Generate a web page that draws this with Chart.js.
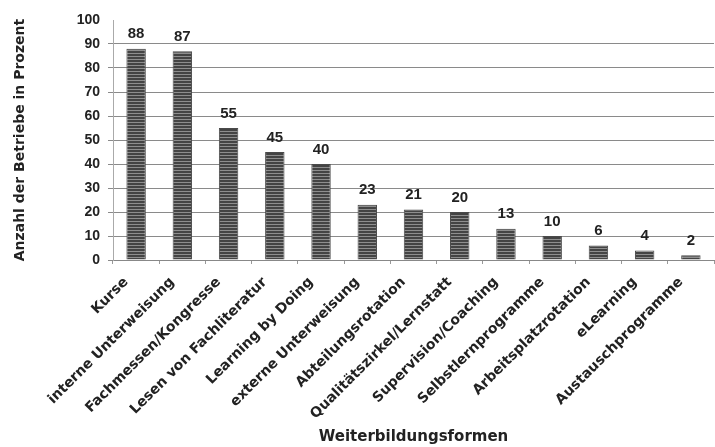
<!DOCTYPE html>
<html>
<head>
<meta charset="utf-8">
<script src="https://cdn.jsdelivr.net/npm/chart.js@4/dist/chart.umd.min.js"></script>
<style>
html,body{margin:0;padding:0;background:#fff;}
#wrap{width:715px;height:447px;position:relative;}
</style>
</head>
<body>
<div id="wrap"><canvas id="c" width="715" height="447"></canvas></div>
<script>
const categories = ["Kurse","interne Unterweisung","Fachmessen/Kongresse","Lesen von Fachliteratur","Learning by Doing","externe Unterweisung","Abteilungsrotation","Qualitätszirkel/Lernstatt","Supervision/Coaching","Selbstlernprogramme","Arbeitsplatzrotation","eLearning","Austauschprogramme"];
const values = [88,87,55,45,40,23,21,20,13,10,6,4,2];
const yTicks = [0,10,20,30,40,50,60,70,80,90,100];
const yTitle = "Anzahl der Betriebe in Prozent";
const xTitle = "Weiterbildungsformen";

// striped fill pattern
const pc = document.createElement('canvas');
pc.width = 4; pc.height = 3;
const pctx = pc.getContext('2d');
pctx.fillStyle = '#8e8e8e'; pctx.fillRect(0,0,4,3);
pctx.fillStyle = '#444'; pctx.fillRect(0,0,4,2);
const ctx = document.getElementById('c').getContext('2d');
const stripe = ctx.createPattern(pc,'repeat');

const valueLabels = {
  id:'valueLabels',
  afterDatasetsDraw(chart){
    const c = chart.ctx;
    const meta = chart.getDatasetMeta(0);
    c.save();
    c.font = 'bold 15px "Liberation Sans", Arial, sans-serif';
    c.fillStyle = '#222';
    c.textAlign = 'center';
    c.textBaseline = 'bottom';
    meta.data.forEach((bar,i)=>{
      const p = bar.getProps(['x','y'],true);
      c.fillText(String(chart.data.datasets[0].data[i]), p.x, p.y - 7);
    });
    c.restore();
  }
};

new Chart(ctx,{
  type:'bar',
  data:{
    labels:categories,
    datasets:[{data:values, backgroundColor:stripe, borderColor:'#4a4a4a', borderWidth:1, barPercentage:0.42, categoryPercentage:1}]
  },
  plugins:[valueLabels],
  options:{
    responsive:false,
    animation:false,
    devicePixelRatio:1,
    layout:{padding:{left:8,right:1,top:20,bottom:0}},
    plugins:{legend:{display:false},tooltip:{enabled:false}},
    scales:{
      x:{
        grid:{display:true, drawOnChartArea:false, drawTicks:true, tickLength:4, color:'#999', offset:true},
        border:{display:true, color:'#888', width:1},
        ticks:{autoSkip:false, maxRotation:45, minRotation:45, color:'#222', padding:10, labelOffset:-10,
          font:{family:'"DejaVu Sans", sans-serif', weight:'bold', size:14}},
        title:{display:true, text:xTitle, color:'#222', padding:{top:4,bottom:1},
          font:{family:'"DejaVu Sans", sans-serif', weight:'bold', size:15}},
        afterFit(s){ s.height = 187; }
      },
      y:{
        min:0, max:100,
        afterBuildTicks(s){ s.ticks = yTicks.map(v=>({value:v})); },
        grid:{color:(c)=> (c.tick && c.tick.value===100) ? 'rgba(0,0,0,0)' : '#8a8a8a', lineWidth:1, tickLength:5, drawTicks:true},
        border:{display:true, color:'#aaa', width:1},
        ticks:{color:'#222', padding:8, font:{family:'"Liberation Sans", Arial, sans-serif', weight:'bold', size:14}},
        title:{display:true, text:yTitle, color:'#222', padding:{top:4,bottom:4},
          font:{family:'"DejaVu Sans", sans-serif', weight:'bold', size:14}},
        afterFit(s){ s.width = 105; }
      }
    }
  }
});
</script>
</body>
</html>
